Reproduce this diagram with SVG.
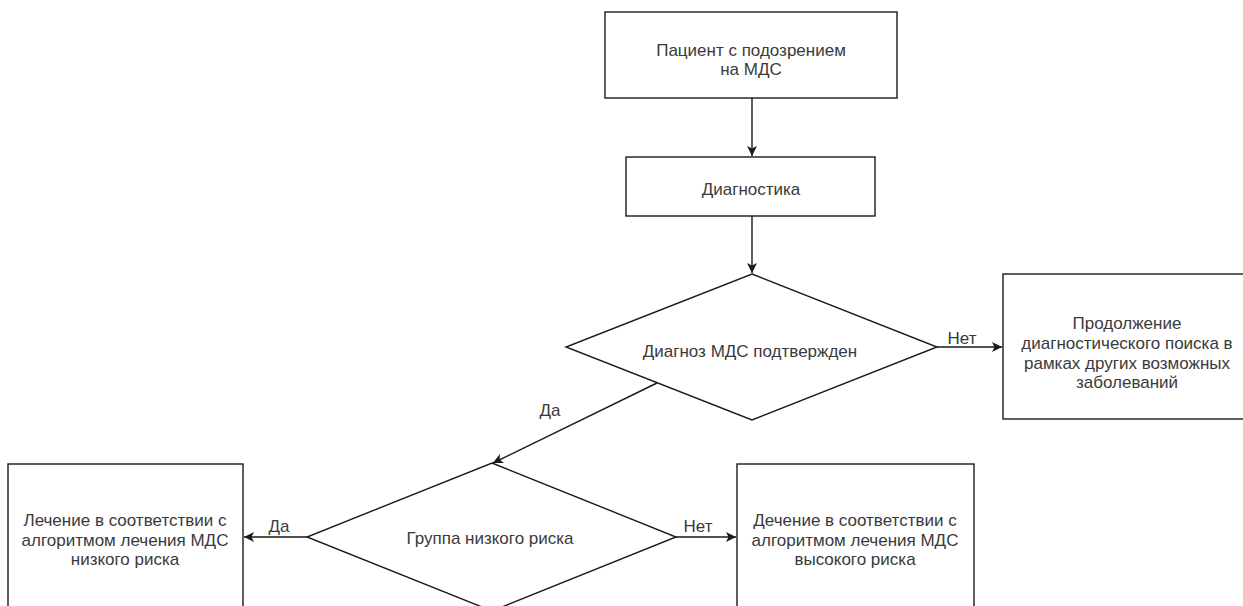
<svg xmlns="http://www.w3.org/2000/svg" width="1243" height="606" viewBox="0 0 1243 606">
<style>
.box{fill:#fff;stroke:#1a1a1a;stroke-width:1.4}
.t{font-family:"Liberation Sans",Arial,sans-serif;font-size:17px;fill:#3a3a3a;text-anchor:middle}
.c{fill:none;stroke:#1a1a1a;stroke-width:1.4}
</style>
<defs>
<marker id="ah" viewBox="0 0 10 10" refX="10" refY="5" markerWidth="10" markerHeight="10" markerUnits="userSpaceOnUse" orient="auto">
<path d="M0,0 L10,5 L0,10 L2.5,5 Z" fill="#1a1a1a"/>
</marker>
</defs>
<rect width="1243" height="606" fill="#fff"/>
<g id="n1">
<rect class="box" x="605" y="12" width="292" height="86"/>
<text class="t" x="751" y="56">Пациент с подозрением</text>
<text class="t" x="751" y="75">на МДС</text>
</g>
<g id="n2">
<rect class="box" x="626" y="157" width="249" height="59"/>
<text class="t" x="751" y="195">Диагностика</text>
</g>
<g id="n3">
<polygon class="box" points="752,274 937,347 752,420 566,347"/>
<text class="t" x="750" y="357">Диагноз МДС подтвержден</text>
</g>
<g id="n4">
<rect class="box" x="1003" y="274" width="250" height="145"/>
<text class="t" x="1127" y="329">Продолжение</text>
<text class="t" x="1127" y="349">диагностического поиска в</text>
<text class="t" x="1127" y="369">рамках других возможных</text>
<text class="t" x="1127" y="388">заболеваний</text>
</g>
<g id="n5">
<polygon class="box" points="492,463 676,537 492,611 307,537"/>
<text class="t" x="490" y="544">Группа низкого риска</text>
</g>
<g id="n6">
<rect class="box" x="8" y="464" width="235" height="160"/>
<text class="t" x="125" y="526">Лечение в соответствии с</text>
<text class="t" x="125" y="546">алгоритмом лечения МДС</text>
<text class="t" x="125" y="565">низкого риска</text>
</g>
<g id="n7">
<rect class="box" x="737" y="464" width="237" height="160"/>
<text class="t" x="855" y="526">Дечение в соответствии с</text>
<text class="t" x="855" y="546">алгоритмом лечения МДС</text>
<text class="t" x="855" y="565">высокого риска</text>
</g>
<g id="connectors">
<line class="c" x1="752" y1="98" x2="752" y2="156" marker-end="url(#ah)"/>
<line class="c" x1="752" y1="216" x2="752" y2="273" marker-end="url(#ah)"/>
<line class="c" x1="937" y1="347" x2="1002" y2="347" marker-end="url(#ah)"/>
<line class="c" x1="657" y1="383" x2="493" y2="463" marker-end="url(#ah)"/>
<line class="c" x1="307" y1="537" x2="244" y2="537" marker-end="url(#ah)"/>
<line class="c" x1="676" y1="537" x2="736" y2="537" marker-end="url(#ah)"/>
<text class="t" x="962" y="344">Нет</text>
<text class="t" x="550" y="416">Да</text>
<text class="t" x="279" y="532">Да</text>
<text class="t" x="698" y="532">Нет</text>
</g>
</svg>
